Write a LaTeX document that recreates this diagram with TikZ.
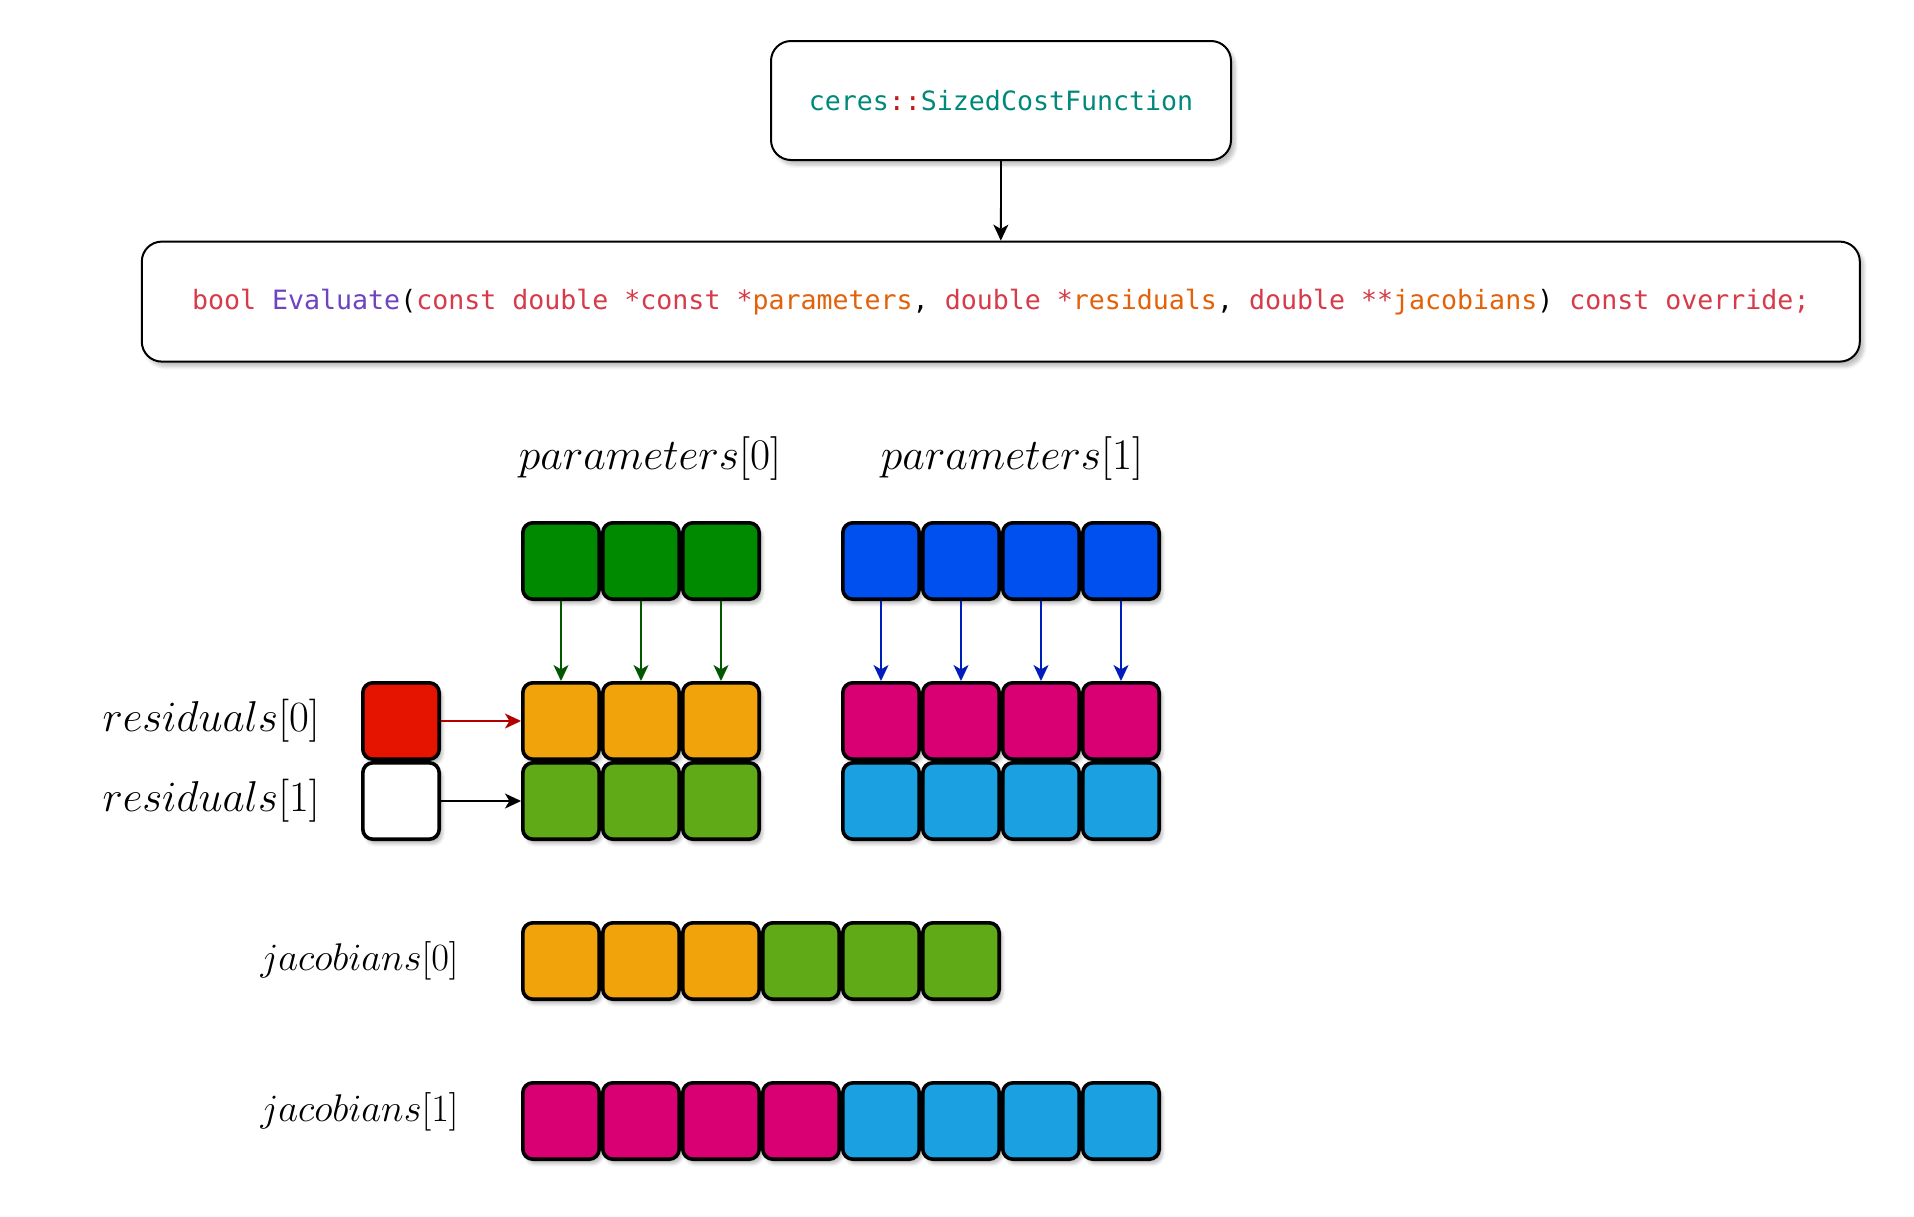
\documentclass[tikz,border=0pt]{standalone}
\usepackage{fontspec}
\newfontfamily\codefont{DejaVu Sans Mono}
\usetikzlibrary{arrows.meta,shadows.blur}
\definecolor{kw}{HTML}{D73A49}
\definecolor{fn}{HTML}{6F42C1}
\definecolor{var}{HTML}{E36209}
\definecolor{ns}{HTML}{00897B}
\definecolor{nssep}{HTML}{C41A16}
\definecolor{pgreen}{HTML}{008A00}
\definecolor{pblue}{HTML}{0050EF}
\definecolor{cred}{HTML}{E51400}
\definecolor{camber}{HTML}{F0A30A}
\definecolor{clgreen}{HTML}{60A917}
\definecolor{cmag}{HTML}{D80073}
\definecolor{ccyan}{HTML}{1BA1E2}
\definecolor{agreen}{HTML}{005700}
\definecolor{ablue}{HTML}{001DBC}
\definecolor{ared}{HTML}{B20000}
\newcommand\mathlabel[5]{%
  \node[anchor=#3, inner sep=0pt] (#1) at (#2) {\fontsize{20.74}{25}\selectfont\scalebox{#4}{#5}};}
\begin{document}
\begin{tikzpicture}[x=1pt,y=1pt,
  cell/.style={draw=black, line width=1.8pt, rounded corners=5pt,
    minimum width=38.2pt, minimum height=38.2pt, inner sep=0pt,
    blur shadow={shadow xshift=1.5pt, shadow yshift=-2.2pt, shadow opacity=28, shadow blur steps=6}},
  codebox/.style={draw=black, line width=1pt, rounded corners=10pt, fill=white,
    blur shadow={shadow xshift=2pt, shadow yshift=-2.5pt, shadow opacity=25, shadow blur steps=6}},
  link/.style={line width=0.9pt, -{Stealth[length=8pt,width=7.5pt,inset=2.2pt]}}]
\useasboundingbox (0,0) rectangle (957,-608);

% code boxes
\node[codebox, minimum width=230pt, minimum height=59.5pt] (top) at (500.5,-50.25)
  {\codefont\fontsize{13.3}{16}\selectfont\textcolor{ns}{ceres}\textcolor{nssep}{::}\textcolor{ns}{SizedCostFunction}};
\node[codebox, minimum width=859pt, minimum height=60pt] (eval) at (500.4,-150.8)
  {\codefont\fontsize{13.3}{16}\selectfont
   \textcolor{kw}{bool} \textcolor{fn}{Evaluate}(\textcolor{kw}{const double *const *}\textcolor{var}{parameters}, \textcolor{kw}{double *}\textcolor{var}{residuals}, \textcolor{kw}{double **}\textcolor{var}{jacobians}) \textcolor{kw}{const override;}};
\draw[link] (top.south) -- (eval.north);

% parameter blocks
\foreach \i in {0,1,2}{
  \node[cell, fill=pgreen] (pa\i) at ({280.5+40*\i},-280.5) {};}
\foreach \i in {0,1,2,3}{
  \node[cell, fill=pblue] (pb\i) at ({440.5+40*\i},-280.5) {};}

% residual rows of jacobian blocks
\foreach \i in {0,1,2}{
  \node[cell, fill=camber] (ra\i) at ({280.5+40*\i},-360.5) {};
  \node[cell, fill=clgreen] (sa\i) at ({280.5+40*\i},-400.5) {};}
\foreach \i in {0,1,2,3}{
  \node[cell, fill=cmag] (rb\i) at ({440.5+40*\i},-360.5) {};
  \node[cell, fill=ccyan] (sb\i) at ({440.5+40*\i},-400.5) {};}

% residuals
\node[cell, fill=cred] (res0) at (200.5,-360.5) {};
\node[cell, fill=white] (res1) at (200.5,-400.5) {};

% jacobians
\foreach \i in {0,1,2}{
  \node[cell, fill=camber] (ja\i) at ({280.5+40*\i},-480.5) {};}
\foreach \i in {3,4,5}{
  \node[cell, fill=clgreen] (ja\i) at ({280.5+40*\i},-480.5) {};}
\foreach \i in {0,1,2,3}{
  \node[cell, fill=cmag] (jb\i) at ({280.5+40*\i},-560.5) {};}
\foreach \i in {4,5,6,7}{
  \node[cell, fill=ccyan] (jb\i) at ({280.5+40*\i},-560.5) {};}

% arrows
\foreach \i in {0,1,2}{
  \draw[link, draw=agreen, fill=agreen] (pa\i.south) -- (ra\i.north);}
\foreach \i in {0,1,2,3}{
  \draw[link, draw=ablue, fill=ablue] (pb\i.south) -- (rb\i.north);}
\draw[link, draw=ared, fill=ared] (res0.east) -- (ra0.west);
\draw[link] (res1.east) -- (sa0.west);

% labels
\mathlabel{lp0}{325,-229.5}{center}{1.055}{$parameters[0]$}
\mathlabel{lp1}{506,-229.5}{center}{1.055}{$parameters[1]$}
\mathlabel{lr0}{160,-360.5}{east}{1.04}{$residuals[0]$}
\mathlabel{lr1}{160,-400.5}{east}{1.04}{$residuals[1]$}
\mathlabel{lj0}{229.5,-480.5}{east}{0.93}{$jacobians[0]$}
\mathlabel{lj1}{229.5,-556}{east}{0.93}{$jacobians[1]$}
\end{tikzpicture}
\end{document}
